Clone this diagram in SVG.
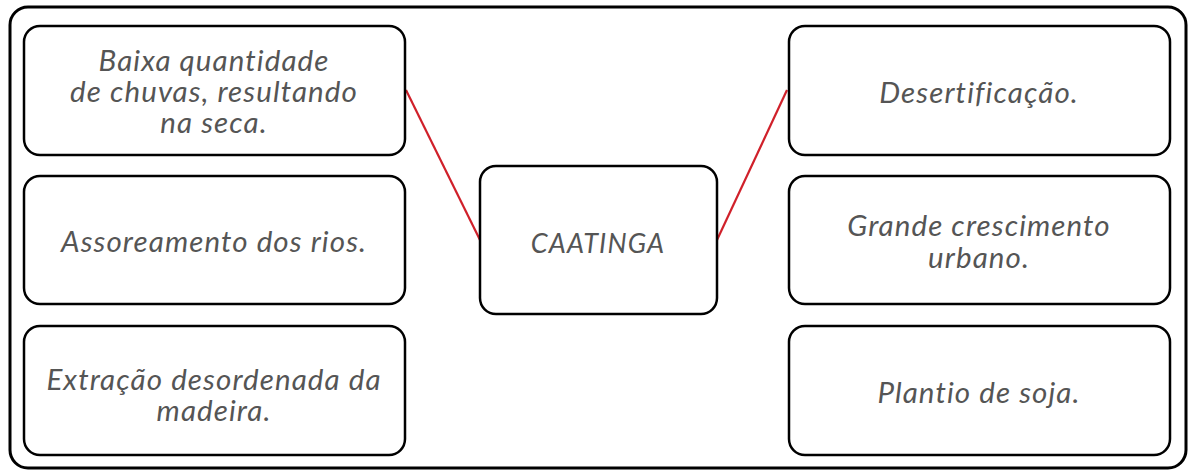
<svg xmlns="http://www.w3.org/2000/svg" width="1192" height="470" viewBox="0 0 1192 470">
<style>
.box{fill:#fff;stroke:#000;stroke-width:2.5}
.t{font-family:Lato,"Open Sans",sans-serif;font-style:italic;font-size:29.5px;fill:#555;text-anchor:middle;letter-spacing:1.1px}
.c{stroke:#d0202a;stroke-width:2.2;fill:none}
</style>
<rect x="10" y="7" width="1176" height="461" rx="18" fill="#fff" stroke="#000" stroke-width="3"/>
<g id="connectors">
<line class="c" x1="406" y1="90" x2="480" y2="240"/>
<line class="c" x1="787" y1="90" x2="717" y2="240"/>
</g>
<g id="n1"><rect class="box" x="24" y="26" width="381" height="129" rx="16"/>
<text class="t" x="214" y="71">Baixa quantidade</text><text class="t" x="214" y="102">de chuvas, resultando</text><text class="t" x="214" y="133">na seca.</text></g>
<g id="n2"><rect class="box" x="24" y="176" width="381" height="128" rx="16"/>
<text class="t" x="214" y="252">Assoreamento dos rios.</text></g>
<g id="n3"><rect class="box" x="24" y="326" width="381" height="129" rx="16"/>
<text class="t" x="214" y="390">Extração desordenada da</text><text class="t" x="214" y="421">madeira.</text></g>
<g id="center"><rect class="box" x="480" y="166" width="237" height="148" rx="16"/>
<text class="t" x="598" y="253" style="font-size:27px">CAATINGA</text></g>
<g id="n4"><rect class="box" x="789" y="26" width="381" height="129" rx="16"/>
<text class="t" x="979" y="103">Desertificação.</text></g>
<g id="n5"><rect class="box" x="789" y="176" width="381" height="128" rx="16"/>
<text class="t" x="979" y="236">Grande crescimento</text><text class="t" x="979" y="268">urbano.</text></g>
<g id="n6"><rect class="box" x="789" y="326" width="381" height="129" rx="16"/>
<text class="t" x="979" y="403">Plantio de soja.</text></g>
</svg>
